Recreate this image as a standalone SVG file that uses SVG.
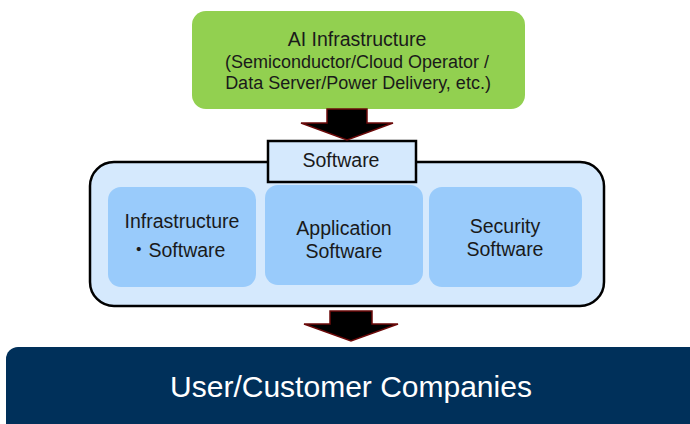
<svg xmlns="http://www.w3.org/2000/svg" width="690" height="424" viewBox="0 0 690 424">
<style>
text{font-family:"Liberation Sans","Noto Sans CJK JP",Arial,sans-serif;text-anchor:middle;fill:#1a1a1a}
.inner{fill:#99cbfb}
.arrow{fill:#000;stroke:#6b0a0a;stroke-width:1.5;stroke-linejoin:miter}
.t19{font-size:19.5px}
</style>
<rect width="690" height="424" fill="#fff"/>
<g id="ai-infrastructure">
<rect x="192" y="11" width="333" height="98" rx="14" fill="#92d050"/>
<text x="357" y="46" style="font-size:19.5px">AI Infrastructure</text>
<text x="357" y="68" style="font-size:18px">(Semiconductor/Cloud  Operator /</text>
<text x="358" y="89" style="font-size:18px">Data Server/Power Delivery, etc.)</text>
</g>
<g id="software-container">
<rect x="90" y="162" width="514" height="144" rx="24" fill="#d5e9fd" stroke="#000" stroke-width="2.5"/>
</g>
<g id="software-label">
<rect x="268" y="141" width="148" height="41" fill="#d5e9fd" stroke="#000" stroke-width="2.5"/>
<text x="341" y="167" class="t19">Software</text>
</g>
<g id="infrastructure-software">
<rect class="inner" x="108" y="187" width="148" height="100" rx="13"/>
<text x="182" y="228" class="t19">Infrastructure</text>
<text x="129" y="257" class="t19" style="text-anchor:start">・Software</text>
</g>
<g id="application-software">
<rect class="inner" x="265" y="185" width="158" height="100" rx="13"/>
<text x="344" y="235" class="t19">Application</text>
<text x="344" y="258" class="t19">Software</text>
</g>
<g id="security-software">
<rect class="inner" x="429" y="187" width="153" height="100" rx="13"/>
<text x="505" y="233" class="t19">Security</text>
<text x="505" y="256" class="t19">Software</text>
</g>
<g id="user-customer-companies">
<rect x="6" y="347" width="700" height="90" rx="12" fill="#00305a"/>
<text x="351" y="397" style="font-size:30px;fill:#fff">User/Customer Companies</text>
</g>
<g id="connectors">
<polygon class="arrow" points="327,109 367,109 367,123 393,123 347,140 301,123 327,123"/>
<polygon class="arrow" points="330,311 372,311 372,324 398,324 351,341 304,324 330,324"/>
</g>
</svg>
